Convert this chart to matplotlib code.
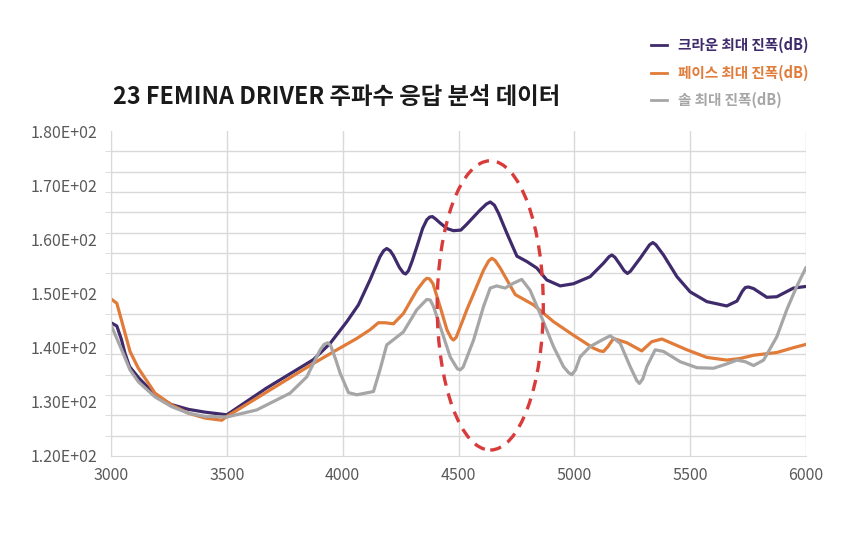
import matplotlib
matplotlib.use("Agg")
import numpy as np
import matplotlib.pyplot as plt
from matplotlib.patches import Ellipse
from matplotlib.ticker import FuncFormatter, MultipleLocator

plt.rcParams['font.family'] = ['Noto Sans CJK KR', 'DejaVu Sans']

TITLE = "23 FEMINA DRIVER 주파수 응답 분석 데이터"
LABELS = ["크라운 최대 진폭(dB)", "페이스 최대 진폭(dB)", "솔 최대 진폭(dB)"]
COLORS = ["#3f2a6b", "#e07b39", "#a6a6a6"]

crown_f = [3000, 3025, 3045, 3060, 3080, 3120, 3190, 3260, 3335, 3405, 3500,
           3670, 3874, 3946, 4018, 4068, 4118, 4161, 4177, 4190, 4205, 4219,
           4245, 4262, 4272, 4284, 4300, 4320, 4345, 4363, 4375, 4387, 4400,
           4421, 4450, 4478, 4510, 4536, 4593, 4620, 4637, 4655, 4673, 4709,
           4752, 4795, 4838, 4881, 4939, 4996, 5068, 5126, 5150, 5162, 5175,
           5198, 5215, 5229, 5242, 5284, 5325, 5339, 5352, 5385, 5443, 5500,
           5572, 5658, 5702, 5725, 5738, 5752, 5774, 5831, 5874, 5946, 6000]
crown_db = [144.6, 144.0, 141.5, 139.0, 136.5, 134.4, 131.3, 129.5, 128.6, 128.1, 127.6,
            132.5, 137.8, 140.8, 144.8, 147.9, 152.5, 156.8, 157.9, 158.3, 157.9, 157.0,
            154.8, 153.8, 153.6, 154.2, 156.0, 158.6, 162.0, 163.6, 164.1, 164.2, 163.8,
            163.0, 162.0, 161.6, 161.7, 162.8, 165.4, 166.5, 166.9, 166.3, 164.8, 161.1,
            156.9, 155.9, 154.7, 152.5, 151.4, 151.8, 153.1, 155.6, 156.8, 157.1, 156.7,
            155.3, 154.2, 153.7, 154.1, 156.5, 159.0, 159.4, 159.0, 157.1, 153.1, 150.3,
            148.5, 147.7, 148.6, 150.4, 151.1, 151.2, 150.9, 149.3, 149.4, 151.0, 151.3]

face_f = [3000, 3025, 3045, 3082, 3118, 3190, 3262, 3334, 3406, 3478, 3500,
          3687, 3874, 3975, 4061, 4118, 4154, 4183, 4219, 4262, 4320, 4352,
          4363, 4375, 4390, 4421, 4450, 4468, 4478, 4490, 4536, 4608, 4630,
          4644, 4658, 4680, 4745, 4824, 4910, 4996, 5083, 5110, 5126, 5145,
          5169, 5227, 5291, 5334, 5378, 5486, 5572, 5658, 5716, 5774, 5874,
          5946, 6000]
face_db = [149.0, 148.2, 145.1, 139.3, 136.2, 131.6, 129.4, 127.9, 127.0, 126.6, 127.3,
           132.2, 137.1, 139.6, 141.7, 143.3, 144.6, 144.6, 144.4, 146.3, 150.6, 152.4,
           152.8, 152.7, 151.8, 147.5, 143.3, 141.8, 141.4, 141.9, 147.0, 154.3, 156.0,
           156.5, 156.1, 154.7, 149.8, 147.9, 144.8, 142.3, 139.9, 139.4, 139.3, 140.2,
           141.7, 140.9, 139.4, 141.1, 141.6, 139.6, 138.2, 137.7, 138.0, 138.6, 139.1,
           140.0, 140.6]

sole_f = [3000, 3046, 3082, 3118, 3190, 3262, 3334, 3406, 3500, 3629, 3773,
          3845, 3903, 3920, 3935, 3948, 3970, 3989, 4025, 4061, 4133, 4161,
          4190, 4262, 4320, 4363, 4378, 4392, 4421, 4464, 4495, 4507, 4520,
          4565, 4608, 4637, 4665, 4701, 4737, 4773, 4809, 4852, 4910, 4953,
          4975, 4989, 5005, 5025, 5068, 5119, 5155, 5198, 5241, 5270, 5281,
          5295, 5313, 5349, 5385, 5457, 5529, 5601, 5658, 5702, 5738, 5774,
          5817, 5874, 5917, 5960, 6000]
sole_db = [144.2, 139.6, 135.9, 133.7, 130.9, 129.1, 127.9, 127.3, 127.2, 128.5, 131.6,
           134.6, 139.6, 140.6, 140.9, 140.4, 137.8, 135.3, 131.7, 131.3, 131.9, 135.9,
           140.5, 142.9, 147.0, 148.9, 148.8, 147.6, 143.9, 138.3, 136.1, 135.9, 136.4,
           141.4, 147.6, 151.0, 151.4, 151.0, 151.9, 152.6, 150.6, 146.3, 140.2, 136.5,
           135.4, 135.0, 135.9, 138.3, 140.2, 141.4, 142.2, 140.8, 136.5, 133.9, 133.4,
           134.2, 136.5, 139.6, 139.3, 137.4, 136.3, 136.2, 137.0, 137.7, 137.4, 136.7,
           137.7, 142.0, 147.0, 151.3, 154.8]

fig = plt.figure(figsize=(8.52, 5.42), dpi=100)
ax = fig.add_axes([0.1303, 0.1587, 0.8157, 0.5996])

series = [(crown_f, crown_db), (face_f, face_db), (sole_f, sole_db)]
for (f, db), lab, col in zip(series, LABELS, COLORS):
    ax.plot(f, db, color=col, lw=2.3, label=lab, solid_joinstyle='round',
            solid_capstyle='round')

# highlighted region
ax.add_patch(Ellipse((4637, 147.8), 458, 53.4, fill=False, ec="#d93b3b",
                     lw=2.4, ls=(0, (3.4, 2.4)), zorder=5))

ax.set_xlim(3000, 6000)
ax.set_ylim(120, 180)
ax.xaxis.set_major_locator(MultipleLocator(500))
ax.yaxis.set_major_locator(MultipleLocator(10))
ax.yaxis.set_minor_locator(MultipleLocator(3.75))
ax.yaxis.set_major_formatter(FuncFormatter(lambda v, p: "{:.2f}E+02".format(v / 100)))

ax.grid(True, axis='x', which='major', color="#d9d9d9", lw=1)
ax.grid(True, axis='y', which='minor', color="#d9d9d9", lw=1)
ax.grid(False, axis='y', which='major')
ax.set_axisbelow(True)
for s in ['top', 'right']:
    ax.spines[s].set_visible(False)
for s in ['left', 'bottom']:
    ax.spines[s].set_color("#d9d9d9")
ax.tick_params(axis='y', which='major', length=0, pad=10, labelsize=11.5, labelcolor="#595959")
ax.tick_params(axis='y', which='minor', length=4, color="#d9d9d9")
ax.tick_params(axis='x', which='major', length=0, pad=8, labelsize=11.5, labelcolor="#595959")
for t in ax.get_xticklabels() + ax.get_yticklabels():
    t.set_fontweight('medium')

fig.text(113 / 852, 1 - 97 / 542, TITLE, fontsize=16.8, fontweight='bold',
         va='center', ha='left', color="#1a1a1a")

leg_y = [45, 73, 100]
for lab, col, y in zip(LABELS, COLORS, leg_y):
    yy = 1 - y / 542
    fig.add_artist(plt.Line2D([651 / 852, 667 / 852], [yy, yy], color=col, lw=2,
                              transform=fig.transFigure))
    fig.text(678 / 852, yy, lab, fontsize=10.5, fontweight='bold', color=col,
             va='center', ha='left')

fig.savefig("out.png", dpi=100)
